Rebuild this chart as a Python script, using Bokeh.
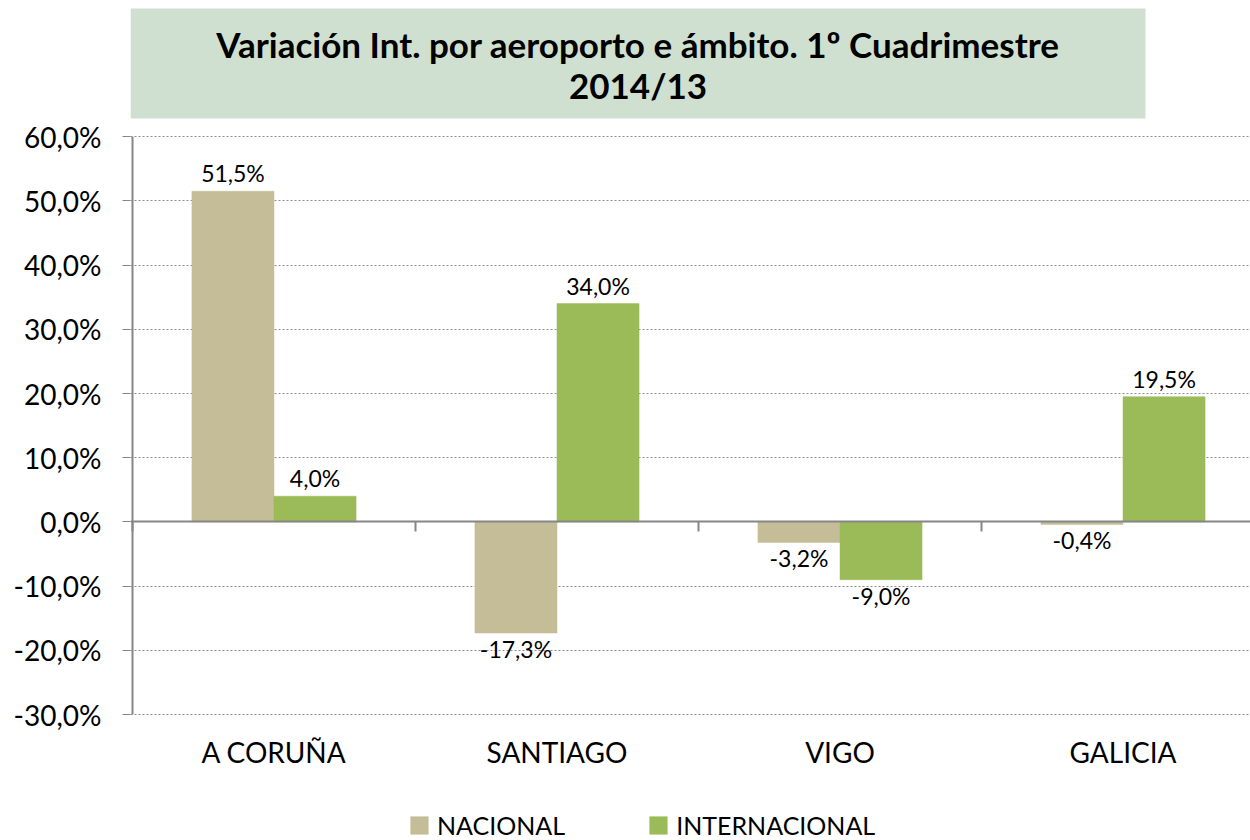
from bokeh.plotting import figure
from bokeh.models import (ColumnDataSource, FixedTicker, LinearAxis, CustomJSTickFormatter,
                          Legend, LegendItem, Range1d)
from bokeh.transform import dodge
from bokeh.core.properties import value
from bokeh.embed import file_html
from bokeh.resources import INLINE

# ---------------- data ----------------
categories = ["A CORUÑA", "SANTIAGO", "VIGO", "GALICIA"]
nacional = [51.5, -17.3, -3.2, -0.4]
internacional = [4.0, 34.0, -9.0, 19.5]
series_names = ["NACIONAL", "INTERNACIONAL"]
y_ticks = [-30, -20, -10, 0, 10, 20, 30, 40, 50, 60]
title_lines = ["Variación Int. por aeroporto e ámbito. 1º Cuadrimestre", "2014/13"]

# ---------------- styling / layout ----------------
FONT = "Lato"
C_NAC = "#c4bd97"
C_INT = "#9bbb59"
C_AXIS = "#868686"
C_GRID = "#8c8c8c"

PX_Y = 6.42          # pixels per percentage point
PX_X = 283.0         # pixels per category
FRAME_LEFT = 130
FRAME_W = 1120
FRAME_H = 840
PLOT_BOTTOM_PX = 714  # pixel row of the lowest gridline
AXIS_GAP_PX = 2       # axis line sits 2px right of the frame edge

x_lo = -AXIS_GAP_PX / PX_X
x_hi = x_lo + FRAME_W / PX_X
y_lo = min(y_ticks) - (FRAME_H - PLOT_BOTTOM_PX) / PX_Y
y_hi = y_lo + FRAME_H / PX_Y

def fmt(v):
    return ("%.1f" % v).replace(".", ",") + "%"

def px_down(px):
    """data y for a point px pixels below the top of the frame"""
    return y_hi - px / PX_Y

xs = [i + 0.5 for i in range(len(categories))]
src = ColumnDataSource(dict(
    x=xs, cat=categories, nac=nacional, inter=internacional,
    nac_lbl=[fmt(v) for v in nacional], int_lbl=[fmt(v) for v in internacional],
    nac_off=[-18 if v >= 0 else 16 for v in nacional],
    int_off=[-18 if v >= 0 else 16 for v in internacional],
))

p = figure(frame_width=FRAME_W, frame_height=FRAME_H,
           x_range=Range1d(x_lo, x_hi), y_range=Range1d(y_lo, y_hi),
           x_axis_location=None,
           min_border_left=FRAME_LEFT, min_border_right=0, min_border_top=0,
           min_border_bottom=0,
           output_backend="svg", toolbar_location=None, tools="")
p.outline_line_color = None
p.background_fill_color = "white"
p.border_fill_color = "white"

# title box
title_w_px = 1015
p.quad(left=x_lo, right=x_lo + title_w_px / PX_X, top=px_down(8), bottom=px_down(118),
       fill_color="#cfe0d1", line_color=None)
title_cx = x_lo + title_w_px / PX_X / 2
p.text(x=[title_cx] * len(title_lines),
       y=[px_down(43), px_down(84)],
       text=title_lines, text_align="center", text_baseline="middle",
       text_font=value(FONT), text_font_style="bold", text_font_size="35px",
       text_color="black")

# grid
p.xgrid.visible = False
p.ygrid.ticker = FixedTicker(ticks=y_ticks)
p.ygrid.grid_line_color = C_GRID
p.ygrid.grid_line_dash = "2 2"
p.ygrid.grid_line_width = 1

# bars
bw = 0.29
r_nac = p.vbar(x=dodge("x", -bw / 2, range=p.x_range), top="nac", bottom=0, width=bw,
               source=src, fill_color=C_NAC, line_color=C_NAC, line_width=0.5)
r_int = p.vbar(x=dodge("x", bw / 2, range=p.x_range), top="inter", bottom=0, width=bw,
               source=src, fill_color=C_INT, line_color=C_INT, line_width=0.5)

# data labels
p.text(x=dodge("x", -bw / 2, range=p.x_range), y="nac", text="nac_lbl", y_offset="nac_off",
       source=src, text_align="center", text_baseline="middle",
       text_font=value(FONT), text_font_size="23px", text_color="black")
p.text(x=dodge("x", bw / 2, range=p.x_range), y="inter", text="int_lbl", y_offset="int_off",
       source=src, text_align="center", text_baseline="middle",
       text_font=value(FONT), text_font_size="23px", text_color="black")

# y axis line
p.segment(x0=[0], y0=[min(y_ticks)], x1=[0], y1=[max(y_ticks)],
          line_color=C_AXIS, line_width=2)

# y axis
ya = p.yaxis[0]
ya.ticker = FixedTicker(ticks=y_ticks)
ya.formatter = CustomJSTickFormatter(code="return tick.toFixed(1).replace('.', ',') + '%';")
ya.axis_line_color = None
ya.major_tick_out = 8
ya.major_tick_in = 0
ya.major_tick_line_color = C_AXIS
ya.major_tick_line_width = 1
ya.minor_tick_line_color = None
ya.major_label_standoff = 21
ya.major_label_text_font = FONT
ya.major_label_text_font_size = "28px"
ya.major_label_text_color = "black"

# category labels axis, pinned to the bottom of the value scale
xa = LinearAxis(fixed_location=min(y_ticks),
                ticker=FixedTicker(ticks=xs),
                major_label_overrides={x: c for x, c in zip(xs, categories)},
                axis_line_color=None, major_tick_line_color=None, minor_tick_line_color=None,
                major_tick_out=0, major_tick_in=0, major_label_standoff=20,
                major_label_text_font=FONT, major_label_text_font_size="28px",
                major_label_text_color="black")
p.add_layout(xa, "below")

# zero line axis with category separators
za = LinearAxis(fixed_location=0,
                ticker=FixedTicker(ticks=list(range(len(categories) + 1))),
                formatter=CustomJSTickFormatter(code="return '';"),
                axis_line_color=C_AXIS, axis_line_width=2,
                major_tick_line_color=C_AXIS, major_tick_line_width=2,
                major_tick_out=10, major_tick_in=0, minor_tick_line_color=None,
                major_label_text_font_size="0px")
p.add_layout(za, "below")

# legend
legend = Legend(items=[LegendItem(label=series_names[0], renderers=[r_nac]),
                       LegendItem(label=series_names[1], renderers=[r_int])],
                location=(278, 0), orientation="horizontal",
                glyph_width=22, glyph_height=22, label_standoff=7, spacing=82,
                padding=0, margin=0, border_line_color=None, background_fill_alpha=0,
                label_text_font=FONT, label_text_font_size="25px", label_text_color="black")
p.add_layout(legend)

open("out.html", "w").write(file_html(p, INLINE))
